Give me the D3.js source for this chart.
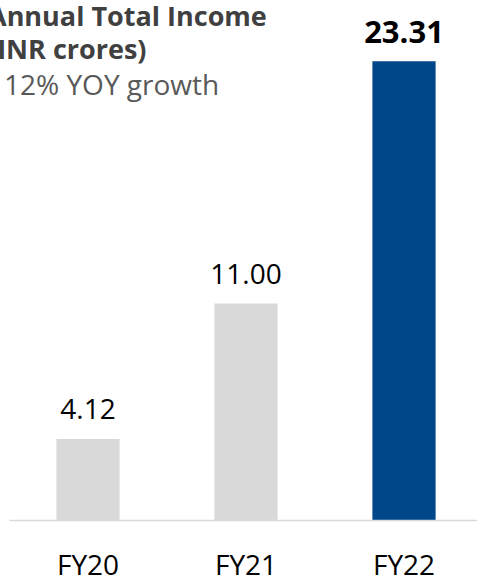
<!DOCTYPE html>
<html>
<head>
	<meta charset="utf-8">
	<title>Annual Total Income</title>
	<script src="https://d3js.org/d3.v7.min.js"></script>
	<style>
		body {
			margin: 0;
			background: white;
		}
		svg {
			display: block;
			font-family: "Open Sans", "Noto Sans", sans-serif;
		}
		.axis .domain {
			stroke: #d9d9d9;
			stroke-width: 1.5px;
		}
		.axis text {
			font-family: "Open Sans", "Noto Sans", sans-serif;
			font-size: 28px;
			fill: #000;
		}
	</style>
</head>
<body>
	<script>
		// chart data
		var categories = ["FY20", "FY21", "FY22"];
		var values = [4.12, 11.00, 23.31];
		var valueLabels = ["4.12", "11.00", "23.31"];
		var titleLines = ["Annual Total Income", "(INR crores)"];
		var subtitle = "112% YOY growth";

		var width = 477,
			height = 582,
			baseY = 520;

		var svg = d3.select("body")
			.append("svg")
			.attr("width", width)
			.attr("height", height);

		var x = d3.scaleBand()
			.domain(categories)
			.range([9, 483])
			.paddingInner(0.6)
			.paddingOuter(0.3);

		var y = d3.scaleLinear()
			.domain([0, 25])
			.range([baseY, 28]);

		// bars - last one highlighted
		svg.selectAll("rect.bar")
			.data(values)
			.enter().append("rect")
			.attr("class", "bar")
			.attr("x", function(d, i) { return x(categories[i]); })
			.attr("y", function(d) { return y(d); })
			.attr("width", x.bandwidth())
			.attr("height", function(d) { return y(0) - y(d); })
			.attr("fill", function(d, i) { return i == values.length - 1 ? "#00468b" : "#d9d9d9"; });

		// value labels
		svg.selectAll("text.val")
			.data(values)
			.enter().append("text")
			.attr("class", "val")
			.attr("x", function(d, i) { return x(categories[i]) + x.bandwidth() / 2; })
			.attr("y", function(d, i) { return y(d) - (i == values.length - 1 ? 18 : 20); })
			.attr("text-anchor", "middle")
			.style("font-size", function(d, i) { return i == values.length - 1 ? "31px" : "28px"; })
			.style("font-weight", function(d, i) { return i == values.length - 1 ? "bold" : "normal"; })
			.style("fill", "#000")
			.text(function(d, i) { return valueLabels[i]; });

		// x axis
		var xAxis = d3.axisBottom(x)
			.tickSize(0);

		svg.append("g")
			.attr("class", "axis")
			.attr("transform", "translate(0," + baseY + ")")
			.call(xAxis)
			.selectAll("text")
			.attr("dy", 0)
			.attr("y", 55);

		// title block (clipped at left edge like the source slide)
		svg.selectAll("text.title")
			.data(titleLines)
			.enter().append("text")
			.attr("class", "title")
			.attr("x", -12)
			.attr("y", function(d, i) { return 26 + i * 33; })
			.style("font-size", "27px")
			.style("font-weight", "bold")
			.style("fill", "#404040")
			.text(function(d) { return d; });

		svg.append("text")
			.attr("x", -12)
			.attr("y", 95)
			.style("font-size", "28px")
			.style("fill", "#595959")
			.text(subtitle);
	</script>
</body>
</html>
